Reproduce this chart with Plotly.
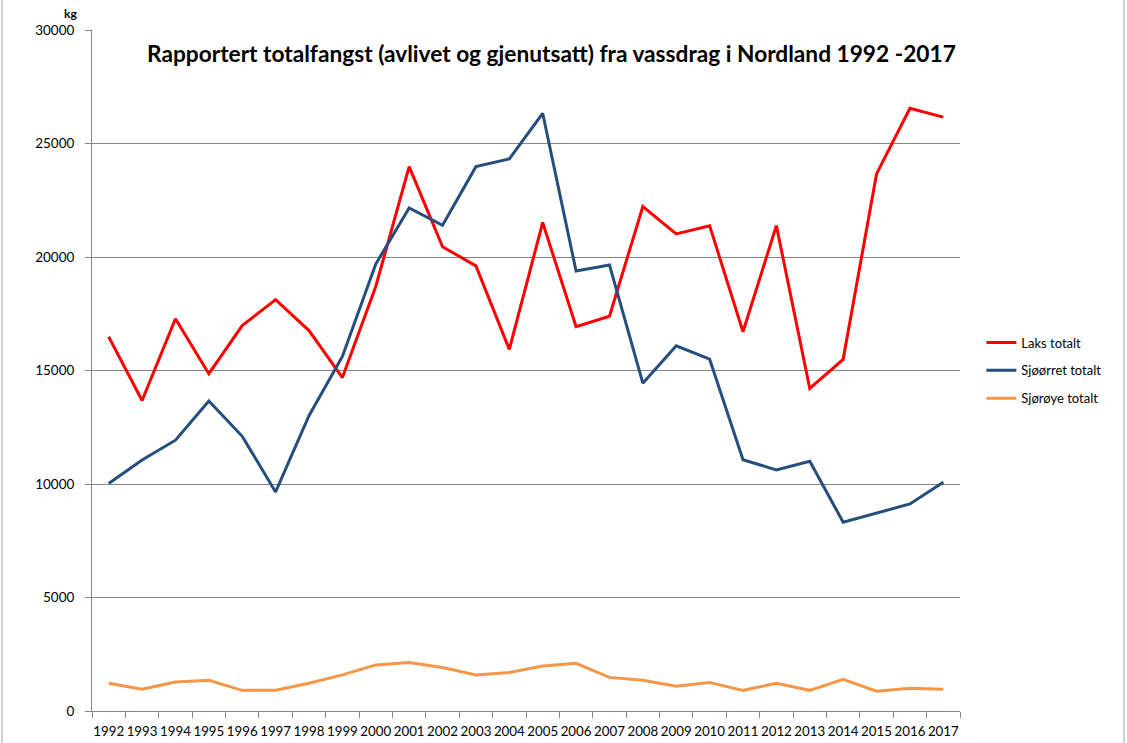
import plotly.graph_objects as go

years = [str(y) for y in range(1992, 2018)]

laks = [16490, 13680, 17280, 14860, 16980, 18120, 16760, 14690, 18700,
        23980, 20450, 19610, 15930, 21520, 16930, 17390, 22220, 21020,
        21380, 16710, 21380, 14210, 15490, 23660, 26550, 26160]
sjoorret = [10020, 11060, 11930, 13660, 12100, 9650, 13010, 15620, 19690,
            22160, 21400, 23980, 24320, 26330, 19380, 19650, 14440, 16090,
            15500, 11070, 10620, 11000, 8320, 8720, 9120, 10080]
sjoroye = [1220, 960, 1280, 1350, 910, 910, 1220, 1590, 2030, 2140, 1920,
           1590, 1700, 1980, 2100, 1480, 1350, 1090, 1260, 910, 1220, 910,
           1400, 870, 1000, 960]

series = [
    ('Laks totalt', laks, '#FF0000'),
    ('Sjøørret totalt', sjoorret, '#254E7E'),
    ('Sjørøye totalt', sjoroye, '#F79646'),
]

font_family = 'Lato, "Open Sans", sans-serif'
grid_color = '#868686'

fig = go.Figure()
for i, (name, values, color) in enumerate(series):
    fig.add_trace(go.Scatter(x=years, y=values, mode='lines', name=name,
                             legendgroup=str(i),
                             line=dict(color=color, width=3)))

fig.update_layout(
    width=1127, height=743,
    margin=dict(l=92, r=167, t=30, b=32),
    paper_bgcolor='white', plot_bgcolor='white',
    font=dict(family=font_family, size=13, color='black'),
    title=dict(text='<b>Rapportert totalfangst (avlivet og gjenutsatt) '
                    'fra vassdrag i Nordland 1992 -2017</b>',
               x=147 / 1127, xanchor='left',
               y=1 - 54 / 743, yanchor='middle',
               font=dict(family=font_family, size=22.7, color='black')),
    legend=dict(x=1.0246, xanchor='left', y=0.5, yanchor='middle',
                traceorder='grouped', tracegroupgap=8,
                font=dict(size=13), bgcolor='rgba(0,0,0,0)'),
    showlegend=True,
)

fig.update_xaxes(type='category', range=[-0.5, 25.5], automargin=False,
                 tickson='boundaries', ticks='outside', ticklen=6,
                 tickangle=0, tickfont=dict(size=13.3),
                 ticklabelstandoff=8,
                 tickcolor=grid_color, showline=True, linecolor=grid_color,
                 showgrid=False, zeroline=False)
fig.update_yaxes(range=[0, 30000], dtick=5000, tickformat='d',
                 automargin=False,
                 ticks='outside', ticklen=6, tickcolor=grid_color,
                 ticklabelstandoff=8, tickfont=dict(size=13.5),
                 showline=True, linecolor=grid_color,
                 showgrid=True, gridcolor=grid_color, gridwidth=1,
                 zeroline=False)

# y axis unit label
fig.add_annotation(text='<b>kg</b>', x=-0.025, y=1.0235, xref='paper',
                   yref='paper', xanchor='center', yanchor='middle',
                   showarrow=False, font=dict(size=12))

# chart area border (left and right edges)
for px in (2, 1124):
    xp = (px - 92) / 868
    fig.add_shape(type='line', xref='paper', yref='paper',
                  x0=xp, x1=xp, y0=-0.05, y1=1.05,
                  line=dict(color='#A0A0A0', width=1))

# drop the default page margin so the figure sits at the window corner
fig.write_html('out.html', config={'displayModeBar': False},
               post_script="document.body.style.margin='0';")
